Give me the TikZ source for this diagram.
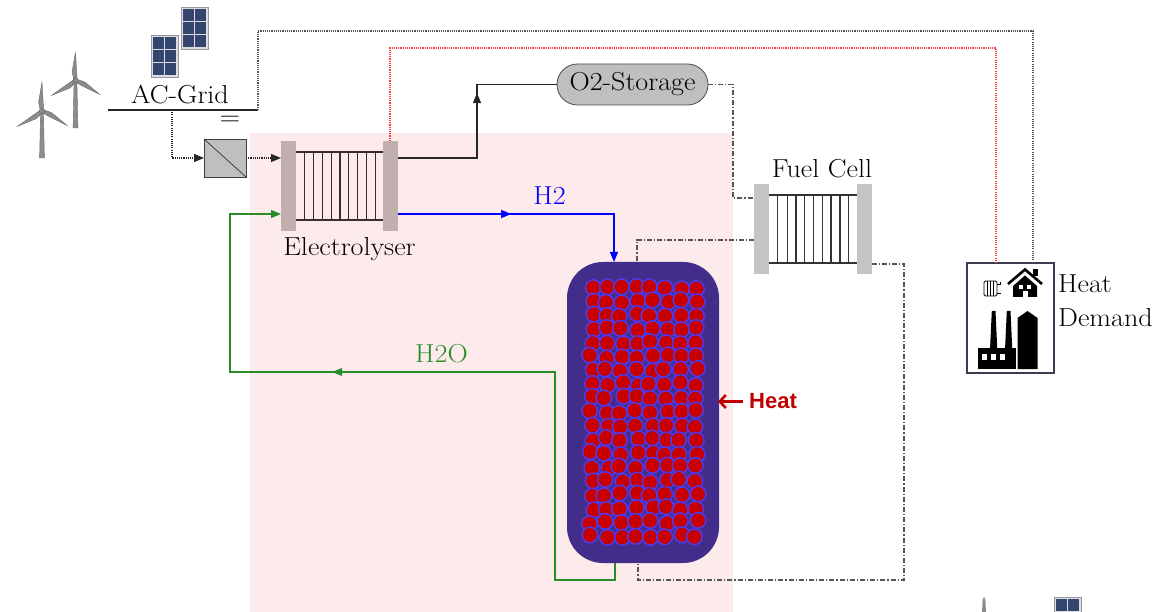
\documentclass[tikz,border=0pt]{standalone}
\usepackage{fontspec}
\setmainfont{Latin Modern Roman}[FakeStretch=1.08]
\newfontfamily\heatfont{Liberation Sans}
\usetikzlibrary{arrows.meta,decorations.markings,shapes.misc}

\definecolor{zonepink}{RGB}{253,234,234}
\definecolor{plateel}{RGB}{193,174,174}
\definecolor{platefc}{RGB}{196,196,196}
\definecolor{stackdark}{RGB}{60,45,45}
\definecolor{tankfill}{RGB}{66,46,138}
\definecolor{beadred}{RGB}{200,0,0}
\definecolor{beadrim}{RGB}{78,58,232}
\definecolor{h2ogreen}{RGB}{40,140,40}
\definecolor{heatred}{RGB}{192,0,0}
\definecolor{wiregray}{RGB}{85,85,85}
\definecolor{reddot}{RGB}{255,60,60}
\definecolor{bladegray}{RGB}{140,140,140}
\definecolor{bladeedge}{RGB}{105,105,105}
\definecolor{panelframe}{RGB}{222,222,226}
\definecolor{paneledge}{RGB}{150,150,155}
\definecolor{panelcell}{RGB}{52,70,110}
\definecolor{boxedge}{RGB}{60,60,82}

% solar panel, top-left corner at (#1,#2)
\newcommand\drawpanel[2]{%
  \begin{scope}[shift={(#1,#2)}]
    \filldraw[fill=panelframe, draw=paneledge, line width=0.6pt] (0,0) rectangle (27,42);
    \foreach \i in {0,1}
      \foreach \j in {0,...,5}
        \fill[panelcell] (2+\i*12,2+\j*6.45) rectangle ++(11,5.9);
  \end{scope}}

% wind turbine: hub (#1,#2), blade length #3, tower foot at y=#4
\newcommand\drawturbine[4]{%
  \filldraw[fill=bladegray, draw=bladeedge, line width=0.4pt]
    (#1-1.4,#2) -- (#1+1.4,#2) -- (#1+2.4,#4) -- (#1-2.4,#4) -- cycle;
  \foreach \rot in {90,212,330}{
    \begin{scope}[shift={(#1,#2)}, rotate=\rot]
      \filldraw[fill=bladegray, draw=bladeedge, line width=0.4pt]
        (0,-1.6) -- (9,-3.4) -- (#3,0) -- (9,1.2) -- (0,1.6) -- cycle;
    \end{scope}}
  \filldraw[fill=bladegray, draw=bladeedge, line width=0.5pt] (#1,#2) circle[radius=2.6];}

\tikzset{
  lbl/.style={font=\fontsize{26}{34}\selectfont, inner sep=0pt},
  elplate/.style={fill=plateel, draw=none, minimum width=15pt, minimum height=90pt, inner sep=0pt, outer sep=0pt},
  fcplate/.style={fill=platefc, draw=none, minimum width=15pt, minimum height=90pt, inner sep=0pt, outer sep=0pt},
  stackline/.style={draw=stackdark, line width=1.1pt},
  convbox/.style={fill=black!25, draw=black!75, line width=0.8pt, minimum width=42pt, minimum height=38pt, inner sep=0pt, outer sep=0pt},
  pill/.style={rounded rectangle, fill=black!25, draw=black!70, line width=0.8pt, minimum width=151pt, minimum height=41pt, inner sep=0pt, outer sep=0pt, font=\fontsize{26}{34}\selectfont},
  tankbox/.style={fill=tankfill, draw=none, rounded corners=36pt, minimum width=152pt, minimum height=301pt, inner sep=0pt, outer sep=0pt},
  bead/.style={fill=beadred, draw=beadrim, line width=1.5pt},
  demandbox/.style={draw=boxedge, line width=1.1pt, fill=white, minimum width=87pt, minimum height=110pt, inner sep=0pt, outer sep=0pt},
  wire/.style={draw=black!85, line width=1.1pt},
  graydot/.style={draw=wiregray, line width=1.1pt, dash pattern=on 1.1pt off 1.1pt},
  reddotted/.style={draw=reddot, line width=1.1pt, dash pattern=on 1.1pt off 1.1pt},
  blackdot/.style={draw=black!85, line width=1.1pt, dash pattern=on 1.1pt off 1.1pt},
  fcline/.style={draw=wiregray, line width=1.1pt, dash pattern=on 5pt off 2pt on 1.2pt off 2pt},
  h2line/.style={draw=blue, line width=1.1pt},
  h2oline/.style={draw=h2ogreen, line width=1.1pt},
  tip/.style={-{Triangle[length=10pt,width=8pt]}},
  midarrow/.style={postaction={decorate, decoration={markings,
      mark=at position #1 with {\arrow{Triangle[length=10pt,width=8pt]}}}}},
}

\begin{document}
\begin{tikzpicture}[x=1pt,y=-1pt]
\useasboundingbox (0,0) rectangle (1159,612);
\clip (0,0) rectangle (1159,612);

% process zone
\fill[zonepink] (250,133) rectangle (733,612);

% renewable sources
\drawturbine{75.5}{80.5}{28}{128}
\drawturbine{42}{111}{29}{158}
\drawpanel{151}{35}
\drawpanel{181}{7}

% AC grid bus
\coordinate (gridL) at (108,110);
\coordinate (gridR) at (258,110);
\draw[line width=1.5pt, black!85] (gridL) -- (gridR);
\node[lbl, anchor=base] (aclabel) at (180,104) {AC-Grid};
\node[lbl] (eqsign) at (230,121) {=};

% AC/DC converter
\node[convbox] (conv) at (225,158) {};
\draw[black!75, line width=0.8pt] (conv.north west) -- (conv.south east);

% electrolyser stack
\node[elplate] (elL) at (288.5,186) {};
\node[elplate] (elR) at (390,186) {};
\draw[stackline] (296,152) -- (383,152);
\draw[stackline] (296,220) -- (383,220);
\foreach \x in {304.3,313.3,322.2,331.1,340,348.9,357.8,366.7,375.6}
  \draw[stackline] (\x,152) -- (\x,220);
\node[lbl, anchor=base] (ellabel) at (349.5,256) {Electrolyser};

% oxygen storage
\node[pill] (o2) at (632.5,84.5) {O2-Storage};

% fuel cell stack
\node[fcplate] (fcL) at (761.5,229) {};
\node[fcplate] (fcR) at (864,229) {};
\draw[stackline, draw=black!80] (769,195) -- (857,195);
\draw[stackline, draw=black!80] (769,263) -- (857,263);
\foreach \x in {777.7,787.3,796,804.7,813.3,822.3,831,840,848.3}
  \draw[stackline, draw=black!80] (\x,195) -- (\x,263);
\node[lbl, anchor=base] (fclabel) at (822,178) {Fuel Cell};

% storage tank with packed bed
\node[tankbox] (tank) at (643,412.5) {};
\pgfmathsetseed{11}
\foreach \r in {0,...,18}
  \foreach \c in {0,...,7}{
    \pgfmathsetmacro\bx{591.5+\c*14.86+2.6*rand}
    \pgfmathsetmacro\by{287.5+\r*13.8+1.8*rand}
    \filldraw[bead] (\bx,\by) circle[radius=7.8];
  }

% heat input
\node[anchor=west, inner sep=0pt, text=heatred, font=\heatfont\bfseries\fontsize{22}{26}\selectfont] (heat) at (749,401.5) {Heat};
\coordinate (heattip) at (718,401.5);
\draw[heatred, line width=2.6pt, -{Straight Barb[length=6pt,width=13pt,line width=2.6pt]}] (heat.west) ++(-6,0) -- (heattip);

% heat demand
\node[demandbox] (hd) at (1010.5,318) {};
\node[lbl, anchor=north west, align=left] (hdlabel) at (1058,275) {Heat\\Demand};
% radiator
\draw[line width=0.8pt, rounded corners=1.5pt] (984,281) rectangle (997,296);
\foreach \x in {987.3,990.5,993.7}
  \draw[line width=0.8pt] (\x,281) -- (\x,296);
\draw[line width=0.9pt] (997,284) -- (1000.5,284) (997,293) -- (1000.5,293) (1000.5,282.5) -- (1000.5,285.5);
% house
\draw[line width=2.6pt, line join=miter] (1008,284) -- (1025,269.5) -- (1042,284);
\fill (1033,269) rectangle (1037.5,276);
\fill (1013,297) -- (1013,286) -- (1025,275.5) -- (1037,286) -- (1037,297) -- cycle;
\fill[white] (1019,285) rectangle (1023,289);
\fill[white] (1027,285) rectangle (1031,289);
\fill[white] (1022.5,291.5) rectangle (1027.5,297);
% factory
\fill (990,350) -- (991.8,311) -- (995.5,311) -- (997.3,350) -- cycle;
\fill (1005,350) -- (1006.8,311) -- (1010.5,311) -- (1012.3,350) -- cycle;
\fill (978,369) rectangle (1016,348);
\fill[white] (982,354) rectangle (987,360);
\fill[white] (991,354) rectangle (996,360);
\fill[white] (1000,354) rectangle (1005,360);
\fill (1017.5,369) -- (1017.5,318) -- (1027.5,311) -- (1037.5,318) -- (1037.5,369) -- cycle;

% cut-off source icons at the lower edge
\fill[bladegray] (982,613) -- (982.6,600) -- (984,596.5) -- (985.4,600) -- (986,613) -- cycle;
\drawpanel{1054}{597}

% electric links
\coordinate (g1) at (172,110);
\coordinate (g2) at (172,158);
\draw[blackdot, tip] (g1) -- (g2) -- (conv.west);
\draw[blackdot, tip] (conv.east) -- (elL.west |- conv.east);
\coordinate (t1) at (258,31);
\coordinate (t2) at (1033,31);
\draw[graydot] (gridR) -- (t1) -- (t2) -- (hd.north -| t2);
\coordinate (r1) at (390,48);
\coordinate (r2) at (996,48);
\draw[reddotted] (elR.north) -- (r1) -- (r2) -- (hd.north -| r2);

% oxygen line
\coordinate (o1) at (477,158);
\coordinate (o2c) at (477,84.5);
\draw[wire, midarrow=0.62] (elR.east |- o1) -- (o1) -- (o2c) -- (o2.west);

% fuel cell links
\coordinate (d1) at (733,84.5);
\coordinate (d2) at (733,198);
\draw[fcline] (o2.east) -- (d1) -- (d2) -- (fcL.west |- d2);
\coordinate (d3) at (637,240);
\draw[fcline] (fcL.west |- d3) -- (d3) -- (tank.north -| d3);
\coordinate (d4) at (904,264);
\coordinate (d5) at (904,580);
\coordinate (d6) at (638,580);
\draw[fcline] (fcR.east |- d4) -- (d4) -- (d5) -- (d6) -- (tank.south -| d6);

% hydrogen line
\coordinate (b1) at (614,214);
\draw[h2line, midarrow=0.43, tip] (elR.east |- b1) -- (b1) -- (tank.north -| b1);
\node[lbl, anchor=base, text=blue] (h2label) at (549.5,205) {H2};

% water return line
\coordinate (w1) at (615,580);
\coordinate (w2) at (555,580);
\coordinate (w3) at (555,372);
\coordinate (w4) at (230,372);
\coordinate (w5) at (230,214);
\draw[h2oline, midarrow=0.62, tip] (tank.south -| w1) -- (w1) -- (w2) -- (w3) -- (w4) -- (w5) -- (elL.west |- w5);
\node[lbl, anchor=base, text=h2ogreen] (h2olabel) at (441.5,362) {H2O};
\end{tikzpicture}
\end{document}
